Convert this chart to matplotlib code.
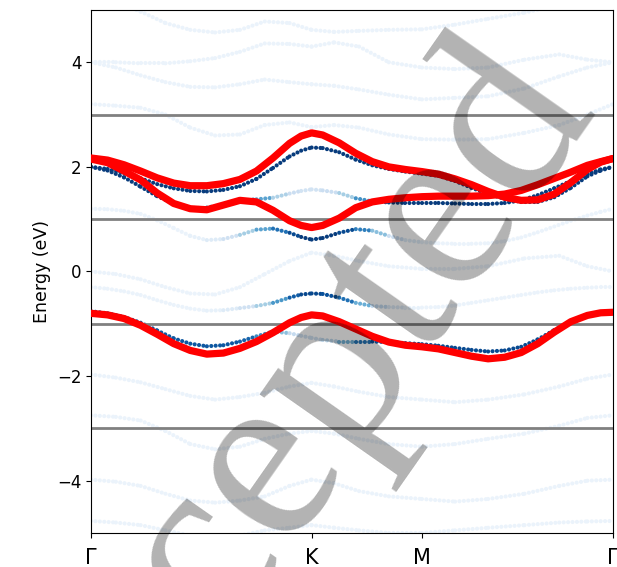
import numpy as np
import matplotlib
matplotlib.use('Agg')
import matplotlib.pyplot as plt
from matplotlib.collections import LineCollection

# k-path (Gamma-K-M-Gamma, units of pi/a)
tick_pos = [0, 1.3333, 2.0, 3.1547]
tick_labels = ['Γ', 'K', 'M', 'Γ']
hlines = [-3, -1, 1, 3]

# sampling of the main bands
k_fine = [0, 0.1, 0.2, 0.3, 0.4, 0.5, 0.6, 0.7, 0.8, 0.9, 1.0, 1.1, 1.2, 1.27, 1.3333,
          1.4, 1.5, 1.6, 1.7, 1.8, 1.9, 2.0, 2.1, 2.2, 2.3, 2.4, 2.5, 2.6, 2.7, 2.8,
          2.9, 3.0, 3.08, 3.1547]
# sampling of the faint background bands
k_coarse = [0, 0.15, 0.3, 0.45, 0.6, 0.75, 0.9, 1.05, 1.2, 1.3333, 1.47, 1.62, 1.8, 2.0,
            2.2, 2.4, 2.62, 2.83, 3.0, 3.1547]

# red (model) bands
red_c1 = [2.17, 2.13, 2.04, 1.92, 1.79, 1.69, 1.64, 1.64, 1.68, 1.76, 1.92, 2.17, 2.45, 2.59, 2.65,
          2.61, 2.46, 2.26, 2.1, 2.0, 1.95, 1.91, 1.86, 1.77, 1.66, 1.53, 1.42, 1.36, 1.37, 1.48,
          1.7, 1.95, 2.09, 2.16]
red_c2 = [2.15, 2.08, 1.92, 1.75, 1.5, 1.3, 1.2, 1.18, 1.27, 1.36, 1.33, 1.17, 0.97, 0.88, 0.84,
          0.88, 1.02, 1.22, 1.33, 1.38, 1.41, 1.43, 1.44, 1.44, 1.44, 1.45, 1.48, 1.55, 1.66, 1.78,
          1.9, 2.03, 2.1, 2.16]
red_v1 = [-0.8, -0.83, -0.9, -1.03, -1.2, -1.38, -1.51, -1.58, -1.56, -1.47, -1.34, -1.17, -0.98,
          -0.88, -0.83, -0.85, -0.96, -1.1, -1.24, -1.35, -1.41, -1.44, -1.48, -1.55, -1.62, -1.67,
          -1.64, -1.55, -1.38, -1.16, -0.96, -0.84, -0.79, -0.78]

# projected (weighted) bands: energies and weights
band_c1 = [2.0, 1.96, 1.88, 1.78, 1.67, 1.59, 1.54, 1.53, 1.56, 1.63, 1.77, 1.98, 2.2, 2.31, 2.37,
           2.36, 2.28, 2.14, 2.03, 1.96, 1.91, 1.87, 1.83, 1.73, 1.6, 1.48, 1.39, 1.33, 1.33, 1.42,
           1.6, 1.82, 1.93, 2.0]
w_c1 = [0.95] * 34
band_c2 = [2.0, 1.93, 1.8, 1.62, 1.44, 1.3, 1.22, 1.22, 1.28, 1.35, 1.38, 1.41, 1.49, 1.54, 1.57,
           1.55, 1.5, 1.4, 1.34, 1.32, 1.31, 1.31, 1.31, 1.3, 1.29, 1.29, 1.31, 1.36, 1.46, 1.59,
           1.73, 1.86, 1.95, 2.0]
w_c2 = [0.95] * 9 + [0.9, 0.7, 0.4, 0.25, 0.2, 0.18, 0.2, 0.25, 0.45, 0.8] + [0.95] * 15
band_c0 = [1.2, 1.19, 1.16, 1.1, 0.98, 0.83, 0.68, 0.6, 0.62, 0.7, 0.8, 0.82, 0.74, 0.66, 0.61,
           0.64, 0.74, 0.81, 0.78, 0.68, 0.6, 0.56, 0.54, 0.53, 0.53, 0.54, 0.58, 0.65, 0.75, 0.86,
           0.97, 1.07, 1.14, 1.2]
w_c0 = [0.06] * 7 + [0.1, 0.15, 0.25] + [0.45, 0.65, 0.85, 0.95, 0.95, 0.95, 0.95, 0.85, 0.55, 0.3] \
    + [0.15, 0.1] + [0.06] * 12
band_v1 = [-0.3, -0.33, -0.38, -0.45, -0.55, -0.64, -0.71, -0.75, -0.74, -0.7, -0.66, -0.6, -0.5,
           -0.44, -0.42, -0.43, -0.5, -0.6, -0.66, -0.68, -0.69, -0.69, -0.68, -0.65, -0.6, -0.55,
           -0.5, -0.45, -0.4, -0.36, -0.33, -0.31, -0.3, -0.3]
w_v1 = [0.06] * 8 + [0.1, 0.15] + [0.25, 0.45, 0.75, 0.9, 0.92, 0.9, 0.85, 0.65, 0.35, 0.18] \
    + [0.1] + [0.06] * 13
band_v2 = [-0.76, -0.8, -0.87, -0.98, -1.13, -1.28, -1.38, -1.43, -1.41, -1.34, -1.24, -1.15, -1.18,
           -1.23, -1.27, -1.31, -1.34, -1.34, -1.34, -1.35, -1.37, -1.39, -1.42, -1.46, -1.5, -1.53,
           -1.51, -1.44, -1.3, -1.12, -0.96, -0.84, -0.78, -0.76]
w_v2 = [0.85] * 10 + [0.75, 0.55, 0.3, 0.2, 0.2, 0.2, 0.35, 0.6, 0.85, 0.9] + [0.9] * 14

# faint background bands
faint_bands = [
    [5.3, 5.15, 4.97, 4.75, 4.62, 4.57, 4.62, 4.78, 4.75, 4.62, 4.58, 4.6, 4.62, 4.63, 4.72, 4.83, 4.95, 5.1, 5.2, 5.3],
    [4.0, 4.0, 3.98, 3.98, 4.02, 4.08, 4.2, 4.36, 4.35, 4.3, 4.38, 4.3, 4.0, 3.9, 3.87, 3.9, 4.05, 4.15, 4.05, 4.0],
    [4.0, 3.9, 3.75, 3.62, 3.53, 3.52, 3.58, 3.67, 3.62, 3.58, 3.55, 3.48, 3.38, 3.29, 3.32, 3.35, 3.5, 3.73, 3.9, 4.0],
    [3.2, 3.17, 3.13, 3.0, 2.75, 2.6, 2.62, 2.8, 2.85, 2.76, 2.8, 2.75, 2.62, 2.53, 2.52, 2.53, 2.65, 2.8, 3.0, 3.2],
    [0.0, -0.05, -0.15, -0.3, -0.42, -0.44, -0.3, -0.05, 0.2, 0.36, 0.3, 0.2, 0.1, 0.05, 0.05, 0.1, 0.25, 0.3, 0.1, 0.0],
    [-1.97, -2.03, -2.12, -2.25, -2.38, -2.45, -2.4, -2.32, -2.2, -2.13, -2.2, -2.3, -2.4, -2.45, -2.5, -2.45, -2.35, -2.2, -2.05, -1.97],
    [-2.75, -2.78, -2.85, -3.05, -3.3, -3.4, -3.35, -3.2, -3.1, -3.05, -3.1, -3.2, -3.3, -3.35, -3.3, -3.2, -3.1, -2.95, -2.8, -2.75],
    [-3.98, -4.02, -4.1, -4.25, -4.38, -4.42, -4.38, -4.3, -4.1, -3.98, -4.05, -4.2, -4.3, -4.35, -4.4, -4.35, -4.25, -4.1, -4.0, -3.98],
    [-4.77, -4.8, -4.85, -4.95, -5.05, -5.1, -5.05, -4.95, -4.9, -4.85, -4.9, -4.95, -5.0, -5.0, -4.95, -4.9, -4.85, -4.8, -4.78, -4.77],
]

cmap = plt.get_cmap('Blues')

fig = plt.figure(figsize=(6.17, 5.67), dpi=100)
ax = fig.add_axes([0.1475, 0.06, 0.846, 0.9224])


def draw_band(k, e, w, z):
    pts = np.column_stack([k, e])
    segs = [pts[i:i + 2] for i in range(len(pts) - 1)]
    cols = [cmap(0.5 * (w[i] + w[i + 1])) for i in range(len(pts) - 1)]
    lc = LineCollection(segs, colors=cols, linewidths=3.0,
                        linestyles=[(0, (0.01, 1.05))], capstyle='round', zorder=z)
    ax.add_collection(lc)


for fb in faint_bands:
    draw_band(k_coarse, fb, [0.06] * len(fb), 1)
for e, w in [(band_c0, w_c0), (band_v1, w_v1), (band_c2, w_c2), (band_c1, w_c1), (band_v2, w_v2)]:
    draw_band(k_fine, e, w, 1.5)

for h in hlines:
    ax.axhline(h, color='grey', lw=2, zorder=2)

for rb in [red_c1, red_c2, red_v1]:
    ax.plot(k_fine, rb, color='red', lw=5.2, zorder=3, solid_capstyle='round',
            solid_joinstyle='round')

ax.set_xlim(0, 3.1547)
ax.set_ylim(-5, 5)
ax.set_xticks(tick_pos)
ax.set_xticklabels(tick_labels)
ax.set_yticks([-4, -2, 0, 2, 4])
ax.set_yticklabels(['−4', '−2', '0', '2', '4'])
ax.tick_params(axis='y', labelsize=12)
ax.tick_params(axis='x', labelsize=15, pad=7.5)
ax.set_ylabel('Energy (eV)', fontsize=12.5)

fig.text(0.091, -0.557, 'Accepted', fontsize=180, family='Liberation Serif',
         rotation=55, rotation_mode='anchor', ha='left', va='baseline',
         color='k', alpha=0.3, zorder=10)

fig.savefig('out.png', dpi=100)
